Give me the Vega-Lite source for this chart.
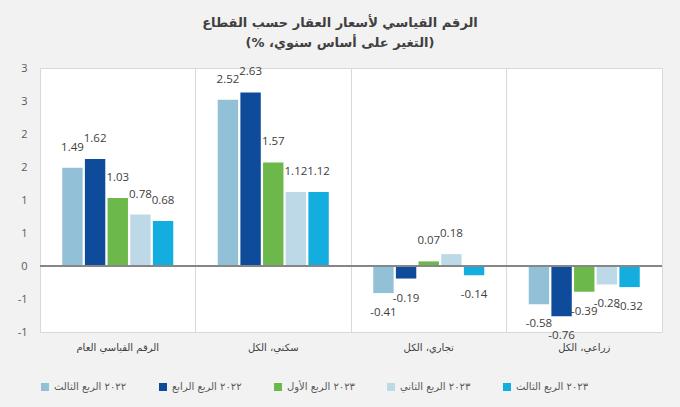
{
  "$schema": "https://vega.github.io/schema/vega-lite/v6.json",
  "width": 622,
  "height": 264,
  "autosize": {"type": "none"},
  "padding": {"left": 40, "top": 68, "right": 18, "bottom": 75},
  "background": "#F2F2F2",
  "config": {
    "view": {"fill": "#FFFFFF", "stroke": "#D9D9D9", "strokeWidth": 1},
    "locale": {"number": {"decimal": ".", "thousands": ",", "grouping": [3], "currency": ["$", ""], "minus": "-"}}
  },
  "title": {
    "text": ["\u202Bالرقم القياسي لأسعار العقار حسب القطاع\u202C", "\u202B(التغير على أساس سنوي، %)\u202C"],
    "font": "DejaVu Sans",
    "fontSize": 13,
    "fontWeight": "bold",
    "color": "#404040",
    "lineHeight": 20,
    "anchor": "middle",
    "dx": -11,
    "offset": 12
  },
  "data": {
    "values": [
      {"sector": "الرقم القياسي العام", "quarter": "٢٠٢٢ الربع الثالث", "value": 1.49},
      {"sector": "الرقم القياسي العام", "quarter": "٢٠٢٢ الربع الرابع", "value": 1.62},
      {"sector": "الرقم القياسي العام", "quarter": "٢٠٢٣ الربع الأول", "value": 1.03},
      {"sector": "الرقم القياسي العام", "quarter": "٢٠٢٣ الربع الثاني", "value": 0.78},
      {"sector": "الرقم القياسي العام", "quarter": "٢٠٢٣ الربع الثالث", "value": 0.68},
      {"sector": "سكني، الكل", "quarter": "٢٠٢٢ الربع الثالث", "value": 2.52},
      {"sector": "سكني، الكل", "quarter": "٢٠٢٢ الربع الرابع", "value": 2.63},
      {"sector": "سكني، الكل", "quarter": "٢٠٢٣ الربع الأول", "value": 1.57},
      {"sector": "سكني، الكل", "quarter": "٢٠٢٣ الربع الثاني", "value": 1.12},
      {"sector": "سكني، الكل", "quarter": "٢٠٢٣ الربع الثالث", "value": 1.12},
      {"sector": "تجاري، الكل", "quarter": "٢٠٢٢ الربع الثالث", "value": -0.41},
      {"sector": "تجاري، الكل", "quarter": "٢٠٢٢ الربع الرابع", "value": -0.19},
      {"sector": "تجاري، الكل", "quarter": "٢٠٢٣ الربع الأول", "value": 0.07},
      {"sector": "تجاري، الكل", "quarter": "٢٠٢٣ الربع الثاني", "value": 0.18},
      {"sector": "تجاري، الكل", "quarter": "٢٠٢٣ الربع الثالث", "value": -0.14},
      {"sector": "زراعي، الكل", "quarter": "٢٠٢٢ الربع الثالث", "value": -0.58},
      {"sector": "زراعي، الكل", "quarter": "٢٠٢٢ الربع الرابع", "value": -0.76},
      {"sector": "زراعي، الكل", "quarter": "٢٠٢٣ الربع الأول", "value": -0.39},
      {"sector": "زراعي، الكل", "quarter": "٢٠٢٣ الربع الثاني", "value": -0.28},
      {"sector": "زراعي، الكل", "quarter": "٢٠٢٣ الربع الثالث", "value": -0.32}
    ]
  },
  "encoding": {
    "x": {
      "field": "sector",
      "type": "nominal",
      "sort": ["الرقم القياسي العام", "سكني، الكل", "تجاري، الكل", "زراعي، الكل"],
      "scale": {"paddingInner": 0.286, "paddingOuter": 0.143},
      "axis": {
        "title": null,
        "labelAngle": 0,
        "labelFont": "DejaVu Sans",
        "labelFontSize": 10,
        "labelColor": "#404040",
        "labelPadding": 10,
        "ticks": false,
        "domain": false,
        "grid": true,
        "gridColor": "#D9D9D9",
        "gridWidth": 1,
        "bandPosition": -0.2
      }
    },
    "xOffset": {
      "field": "quarter",
      "type": "nominal",
      "sort": ["٢٠٢٢ الربع الثالث", "٢٠٢٢ الربع الرابع", "٢٠٢٣ الربع الأول", "٢٠٢٣ الربع الثاني", "٢٠٢٣ الربع الثالث"],
      "scale": {"paddingInner": 0.1, "paddingOuter": 0}
    },
    "y": {
      "field": "value",
      "type": "quantitative",
      "scale": {"domain": [-1, 3], "nice": false, "zero": false},
      "axis": {
        "title": null,
        "values": [-1, -0.5, 0, 0.5, 1, 1.5, 2, 2.5, 3],
        "format": ".0f",
        "grid": false,
        "ticks": false,
        "domain": false,
        "labelFont": "Open Sans",
        "labelFontSize": 11,
        "labelColor": "#595959",
        "labelPadding": 13
      }
    }
  },
  "layer": [
    {
      "mark": {"type": "bar"},
      "encoding": {
        "color": {
          "field": "quarter",
          "type": "nominal",
          "sort": ["٢٠٢٢ الربع الثالث", "٢٠٢٢ الربع الرابع", "٢٠٢٣ الربع الأول", "٢٠٢٣ الربع الثاني", "٢٠٢٣ الربع الثالث"],
          "scale": {
            "domain": ["٢٠٢٢ الربع الثالث", "٢٠٢٢ الربع الرابع", "٢٠٢٣ الربع الأول", "٢٠٢٣ الربع الثاني", "٢٠٢٣ الربع الثالث"],
            "range": ["#92C1D7", "#0E4B9B", "#6CB84A", "#BDD9E7", "#13AEDF"]
          },
          "legend": {
            "title": null,
            "orient": "bottom",
            "direction": "horizontal",
            "symbolType": "square",
            "symbolSize": 64,
            "symbolStrokeWidth": 0,
            "labelFont": "DejaVu Sans",
            "labelFontSize": 10,
            "labelColor": "#595959",
            "columnPadding": 31,
            "offset": 30
          }
        }
      }
    },
    {
      "mark": {"type": "rule", "color": "#868686", "strokeWidth": 2},
      "encoding": {"y": {"datum": 0}, "x": {"value": 0}, "x2": {"value": "width"}, "xOffset": null}
    },
    {
      "transform": [{"filter": "datum.value >= 0"}],
      "mark": {"type": "text", "dy": -20, "baseline": "middle", "font": "Open Sans", "fontSize": 11.5, "color": "#404040"},
      "encoding": {"text": {"field": "value", "type": "quantitative", "format": ".2f"}}
    },
    {
      "transform": [{"filter": "datum.value < 0"}],
      "mark": {"type": "text", "dy": 20, "baseline": "middle", "font": "Open Sans", "fontSize": 11.5, "color": "#404040"},
      "encoding": {"text": {"field": "value", "type": "quantitative", "format": ".2f"}}
    }
  ]
}
